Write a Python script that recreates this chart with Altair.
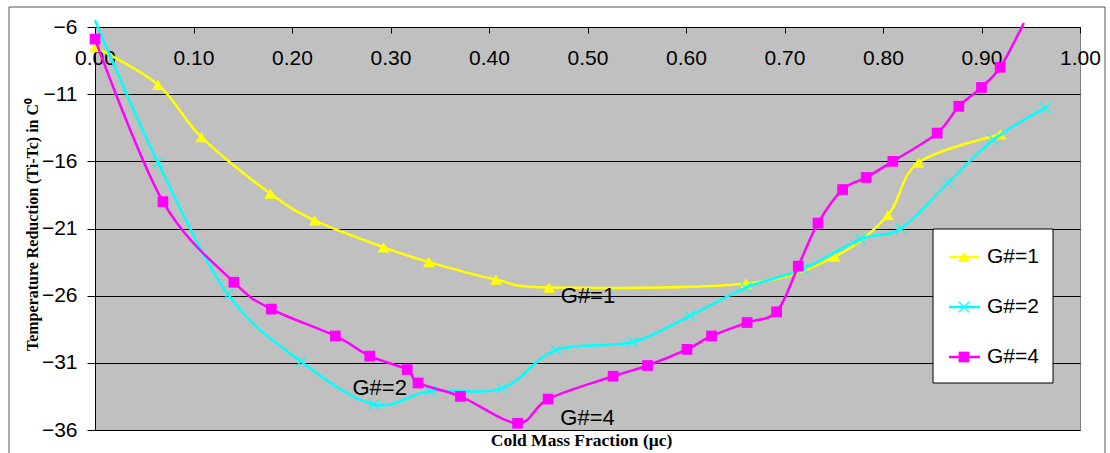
import altair as alt
import pandas as pd

series_names = ["G#=1", "G#=2", "G#=4"]
colors = ["#FFFF00", "#00FFFF", "#FF00FF"]

g1_x = [0.0, 0.064, 0.108, 0.178, 0.223, 0.293, 0.339, 0.407, 0.461, 0.661, 0.751, 0.805, 0.836, 0.919]
g1_y = [-7.5, -10.3, -14.2, -18.4, -20.4, -22.4, -23.5, -24.8, -25.4, -25.1, -23.1, -20.0, -16.1, -14.0]
g2_x = [0.0, 0.064, 0.135, 0.209, 0.283, 0.340, 0.413, 0.468, 0.546, 0.604, 0.661, 0.719, 0.777, 0.818, 0.866, 0.912, 0.965]
g2_y = [-5.5, -16.1, -25.9, -30.9, -34.1, -33.1, -32.9, -30.05, -29.45, -27.5, -25.4, -24.0, -21.8, -21.0, -17.6, -14.4, -12.0]
g4_x = [0.0, 0.069, 0.141, 0.179, 0.244, 0.279, 0.317, 0.328, 0.371, 0.429, 0.460, 0.526, 0.561, 0.601, 0.626,
        0.662, 0.692, 0.714, 0.734, 0.759, 0.783, 0.810, 0.855, 0.877, 0.900, 0.919, 0.943]
g4_y = [-6.9, -19.0, -25.0, -27.0, -29.0, -30.5, -31.5, -32.5, -33.5, -35.5, -33.7, -32.0, -31.2, -30.0, -29.0,
        -28.0, -27.2, -23.8, -20.6, -18.1, -17.2, -16.0, -13.9, -11.9, -10.5, -9.0, -5.7]

x_ticks = [0.0, 0.1, 0.2, 0.3, 0.4, 0.5, 0.6, 0.7, 0.8, 0.9, 1.0]
y_ticks = [-6, -11, -16, -21, -26, -31, -36]

label_text = ["G#=1", "G#=2", "G#=4"]
label_x = [0.5005, 0.289, 0.50]
label_y = [-26.0, -32.9, -35.1]

W, H = 985, 403
XCROSS = "M-1,-1L1,1M-1,1L1,-1"

xs = [g1_x, g2_x, g4_x]
ys = [g1_y, g2_y, g4_y]
shapes = ["triangle-up", XCROSS, "square"]
msizes = [140, 110, 115]

x_enc = alt.X("x:Q", scale=alt.Scale(domain=[0, 1], nice=False, zero=False),
              axis=alt.Axis(orient="bottom", offset=-H, values=x_ticks, format=".2f",
                            grid=False, tickSize=6, tickColor="#000", domainColor="#000",
                            labelFont="Liberation Sans", labelFontSize=21, labelColor="#000",
                            labelPadding=14, labelFlush=False,
                            title="Cold Mass Fraction (μc)", titleFont="Liberation Serif",
                            titleFontSize=17.5, titleFontWeight="bold", titleColor="#000",
                            titleX=486, titleY=413, titleBaseline="middle", titleAlign="center"))
y_enc = alt.Y("y:Q", scale=alt.Scale(domain=[-36, -6], nice=False, zero=False),
              axis=alt.Axis(values=y_ticks, grid=True, gridColor="#000", gridWidth=1, gridOpacity=1,
                            tickSize=8, tickColor="#000", domainColor="#000",
                            labelFont="Liberation Sans", labelFontSize=21, labelColor="#000",
                            labelPadding=10,
                            title="Temperature Reduction (Ti-Tc) in C⁰", titleFont="Liberation Serif",
                            titleFontSize=16, titleFontWeight="bold", titleColor="#000",
                            titleX=-63, titleY=197, titleAngle=270, titleAlign="center",
                            titleBaseline="middle"))

layers = []

# outer border (stroke only)
layers.append(alt.Chart(pd.DataFrame({"a": [0]})).mark_rect(fillOpacity=0, stroke="#555", strokeWidth=1,
                                                            clip=False).encode(
    x=alt.value(-86), x2=alt.value(1010), y=alt.value(-20), y2=alt.value(440)))

for i in range(3):
    df = pd.DataFrame({"x": xs[i], "y": ys[i]})
    layers.append(alt.Chart(df).mark_line(color=colors[i], strokeWidth=2.5, interpolate="cardinal",
                                          clip=False).encode(x=x_enc, y=y_enc))
    pts = alt.Chart(df).transform_filter("datum.y <= -6")
    if i == 1:
        layers.append(pts.mark_point(shape=XCROSS, filled=False, stroke=colors[i], strokeWidth=1.2,
                                     size=msizes[i], opacity=1).encode(x="x:Q", y="y:Q"))
    else:
        layers.append(pts.mark_point(shape=shapes[i], filled=True, fill=colors[i], strokeWidth=0,
                                     size=msizes[i], opacity=1).encode(x="x:Q", y="y:Q"))

lab_df = pd.DataFrame({"x": label_x, "y": label_y, "t": label_text})
layers.append(alt.Chart(lab_df).mark_text(font="Liberation Sans", fontSize=22, color="#000",
                                          align="center", baseline="middle").encode(
    x="x:Q", y="y:Q", text="t:N"))

# legend
lx0, ly0, lx1, ly1 = 838, 202, 958, 356
layers.append(alt.Chart(pd.DataFrame({"a": [0]})).mark_rect(fill="white", stroke="#000", strokeWidth=1).encode(
    x=alt.value(lx0), x2=alt.value(lx1), y=alt.value(ly0), y2=alt.value(ly1)))
entry_y = [230, 280, 330]
for i in range(3):
    one = pd.DataFrame({"t": [series_names[i]]})
    layers.append(alt.Chart(one).mark_rule(color=colors[i], strokeWidth=2.5).encode(
        x=alt.value(854), x2=alt.value(885), y=alt.value(entry_y[i])))
    if i == 1:
        layers.append(alt.Chart(one).mark_point(shape=XCROSS, filled=False, stroke=colors[i], strokeWidth=1.2,
                                                size=msizes[i], opacity=1).encode(
            x=alt.value(869), y=alt.value(entry_y[i])))
    else:
        layers.append(alt.Chart(one).mark_point(shape=shapes[i], filled=True, fill=colors[i], strokeWidth=0,
                                                size=msizes[i], opacity=1).encode(
            x=alt.value(869), y=alt.value(entry_y[i])))
    layers.append(alt.Chart(one).mark_text(font="Liberation Sans", fontSize=21, color="#000",
                                           align="left", baseline="middle").encode(
        x=alt.value(892), y=alt.value(entry_y[i]), text="t:N"))

chart = alt.layer(*layers).properties(
    width=W, height=H,
    autosize=alt.AutoSizeParams(type="none"),
    padding={"left": 95, "top": 27, "right": 30, "bottom": 23},
    background="white",
).configure_view(stroke="#808080", fill="#C0C0C0")

chart.save("out.html", embed_options={"renderer": "svg", "actions": False})
